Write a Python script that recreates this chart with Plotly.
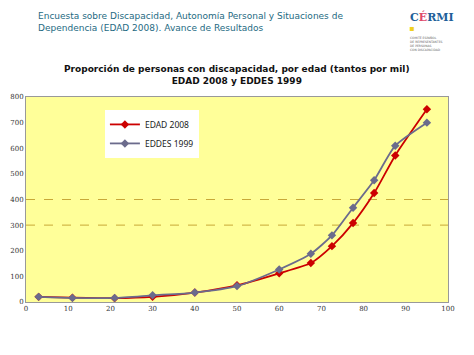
import plotly.graph_objects as go

ages = [3, 11, 21, 30, 40, 50, 60, 67.5, 72.5, 77.5, 82.5, 87.5, 95]
edad_2008 = [20, 17, 15, 20, 37, 65, 112, 152, 218, 308, 425, 572, 752]
eddes_1999 = [20, 16, 16, 26, 37, 62, 127, 188, 260, 368, 475, 610, 700]
x_ticks = list(range(0, 101, 10))
y_ticks = list(range(0, 801, 100))
grid_lines = [300, 400]

fig = go.Figure()
fig.add_trace(go.Scatter(
    x=ages, y=edad_2008, name="EDAD 2008", mode="lines+markers",
    line=dict(color="#cc0000", width=1.8, shape="spline", smoothing=0.6),
    marker=dict(symbol="diamond", size=6.5, color="#cc0000")))
fig.add_trace(go.Scatter(
    x=ages, y=eddes_1999, name="EDDES 1999", mode="lines+markers",
    line=dict(color="#6b6b8c", width=1.8, shape="spline", smoothing=0.6),
    marker=dict(symbol="diamond", size=6.5, color="#6b6b8c")))

for g in grid_lines:
    fig.add_shape(type="line", xref="paper", x0=0, x1=1, yref="y", y0=g, y1=g,
                  line=dict(color="#c8a838", width=1, dash="dash"), layer="below")

# page body has an 8px margin: compensate so the plot sits where it should
fig.update_layout(
    width=466, height=347,
    margin=dict(l=18, r=26, t=89, b=53),
    paper_bgcolor="white", plot_bgcolor="#ffff99",
    font=dict(family="DejaVu Serif", size=7, color="#333333"),
    showlegend=True,
    legend=dict(x=0.187, y=0.937, xanchor="left", yanchor="top",
                bgcolor="white", bordercolor="white", borderwidth=0,
                font=dict(family="Noto Sans", size=8.5, color="#222222"),
                tracegroupgap=3, itemwidth=30),
    xaxis=dict(range=[0, 100], tickvals=x_ticks, showgrid=False, zeroline=False,
               showline=True, linecolor="#999999", mirror=True, ticks="",
               automargin=False,
               tickfont=dict(family="DejaVu Serif", size=7, color="#333333")),
    yaxis=dict(range=[0, 800], tickvals=y_ticks, showgrid=False, zeroline=False,
               showline=True, linecolor="#999999", mirror=True, ticks="",
               automargin=False,
               tickfont=dict(family="DejaVu Serif", size=7, color="#333333")),
)

fig.add_annotation(
    text="Encuesta sobre Discapacidad, Autonomía Personal y Situaciones de<br>Dependencia (EDAD 2008). Avance de Resultados",
    xref="paper", yref="paper", x=0, y=1.0, xanchor="left", yanchor="top",
    showarrow=False, align="left", xshift=10, yshift=88,
    font=dict(family="DejaVu Sans", size=9, color="#1e6a82"))
fig.add_annotation(
    text="<b>Proporción de personas con discapacidad, por edad (tantos por mil)<br>EDAD 2008 y EDDES 1999</b>",
    xref="paper", yref="paper", x=0.5, y=1.0, xanchor="center", yanchor="bottom",
    showarrow=False, align="center", yshift=9,
    font=dict(family="DejaVu Sans", size=9, color="#111111"))
fig.add_annotation(
    text="<b>C<span style='color:#e04a6a'>É</span>RMI</b>",
    xref="paper", yref="paper", x=1.0, y=1.0, xanchor="right", yanchor="top",
    showarrow=False, xshift=8, yshift=89,
    font=dict(family="DejaVu Serif", size=11, color="#1f5f9a"))
fig.add_annotation(
    text="▪",
    xref="paper", yref="paper", x=1.0, y=1.0, xanchor="left", yanchor="top",
    showarrow=False, xshift=-41, yshift=75,
    font=dict(family="DejaVu Sans", size=8, color="#f0d020"))
fig.add_annotation(
    text="COMITÉ ESPAÑOL<br>DE REPRESENTANTES<br>DE PERSONAS<br>CON DISCAPACIDAD",
    xref="paper", yref="paper", x=1.0, y=1.0, xanchor="left", yanchor="top",
    showarrow=False, xshift=-40, yshift=63, align="left",
    font=dict(family="DejaVu Sans", size=3, color="#666666"))

fig.write_html("out.html")
